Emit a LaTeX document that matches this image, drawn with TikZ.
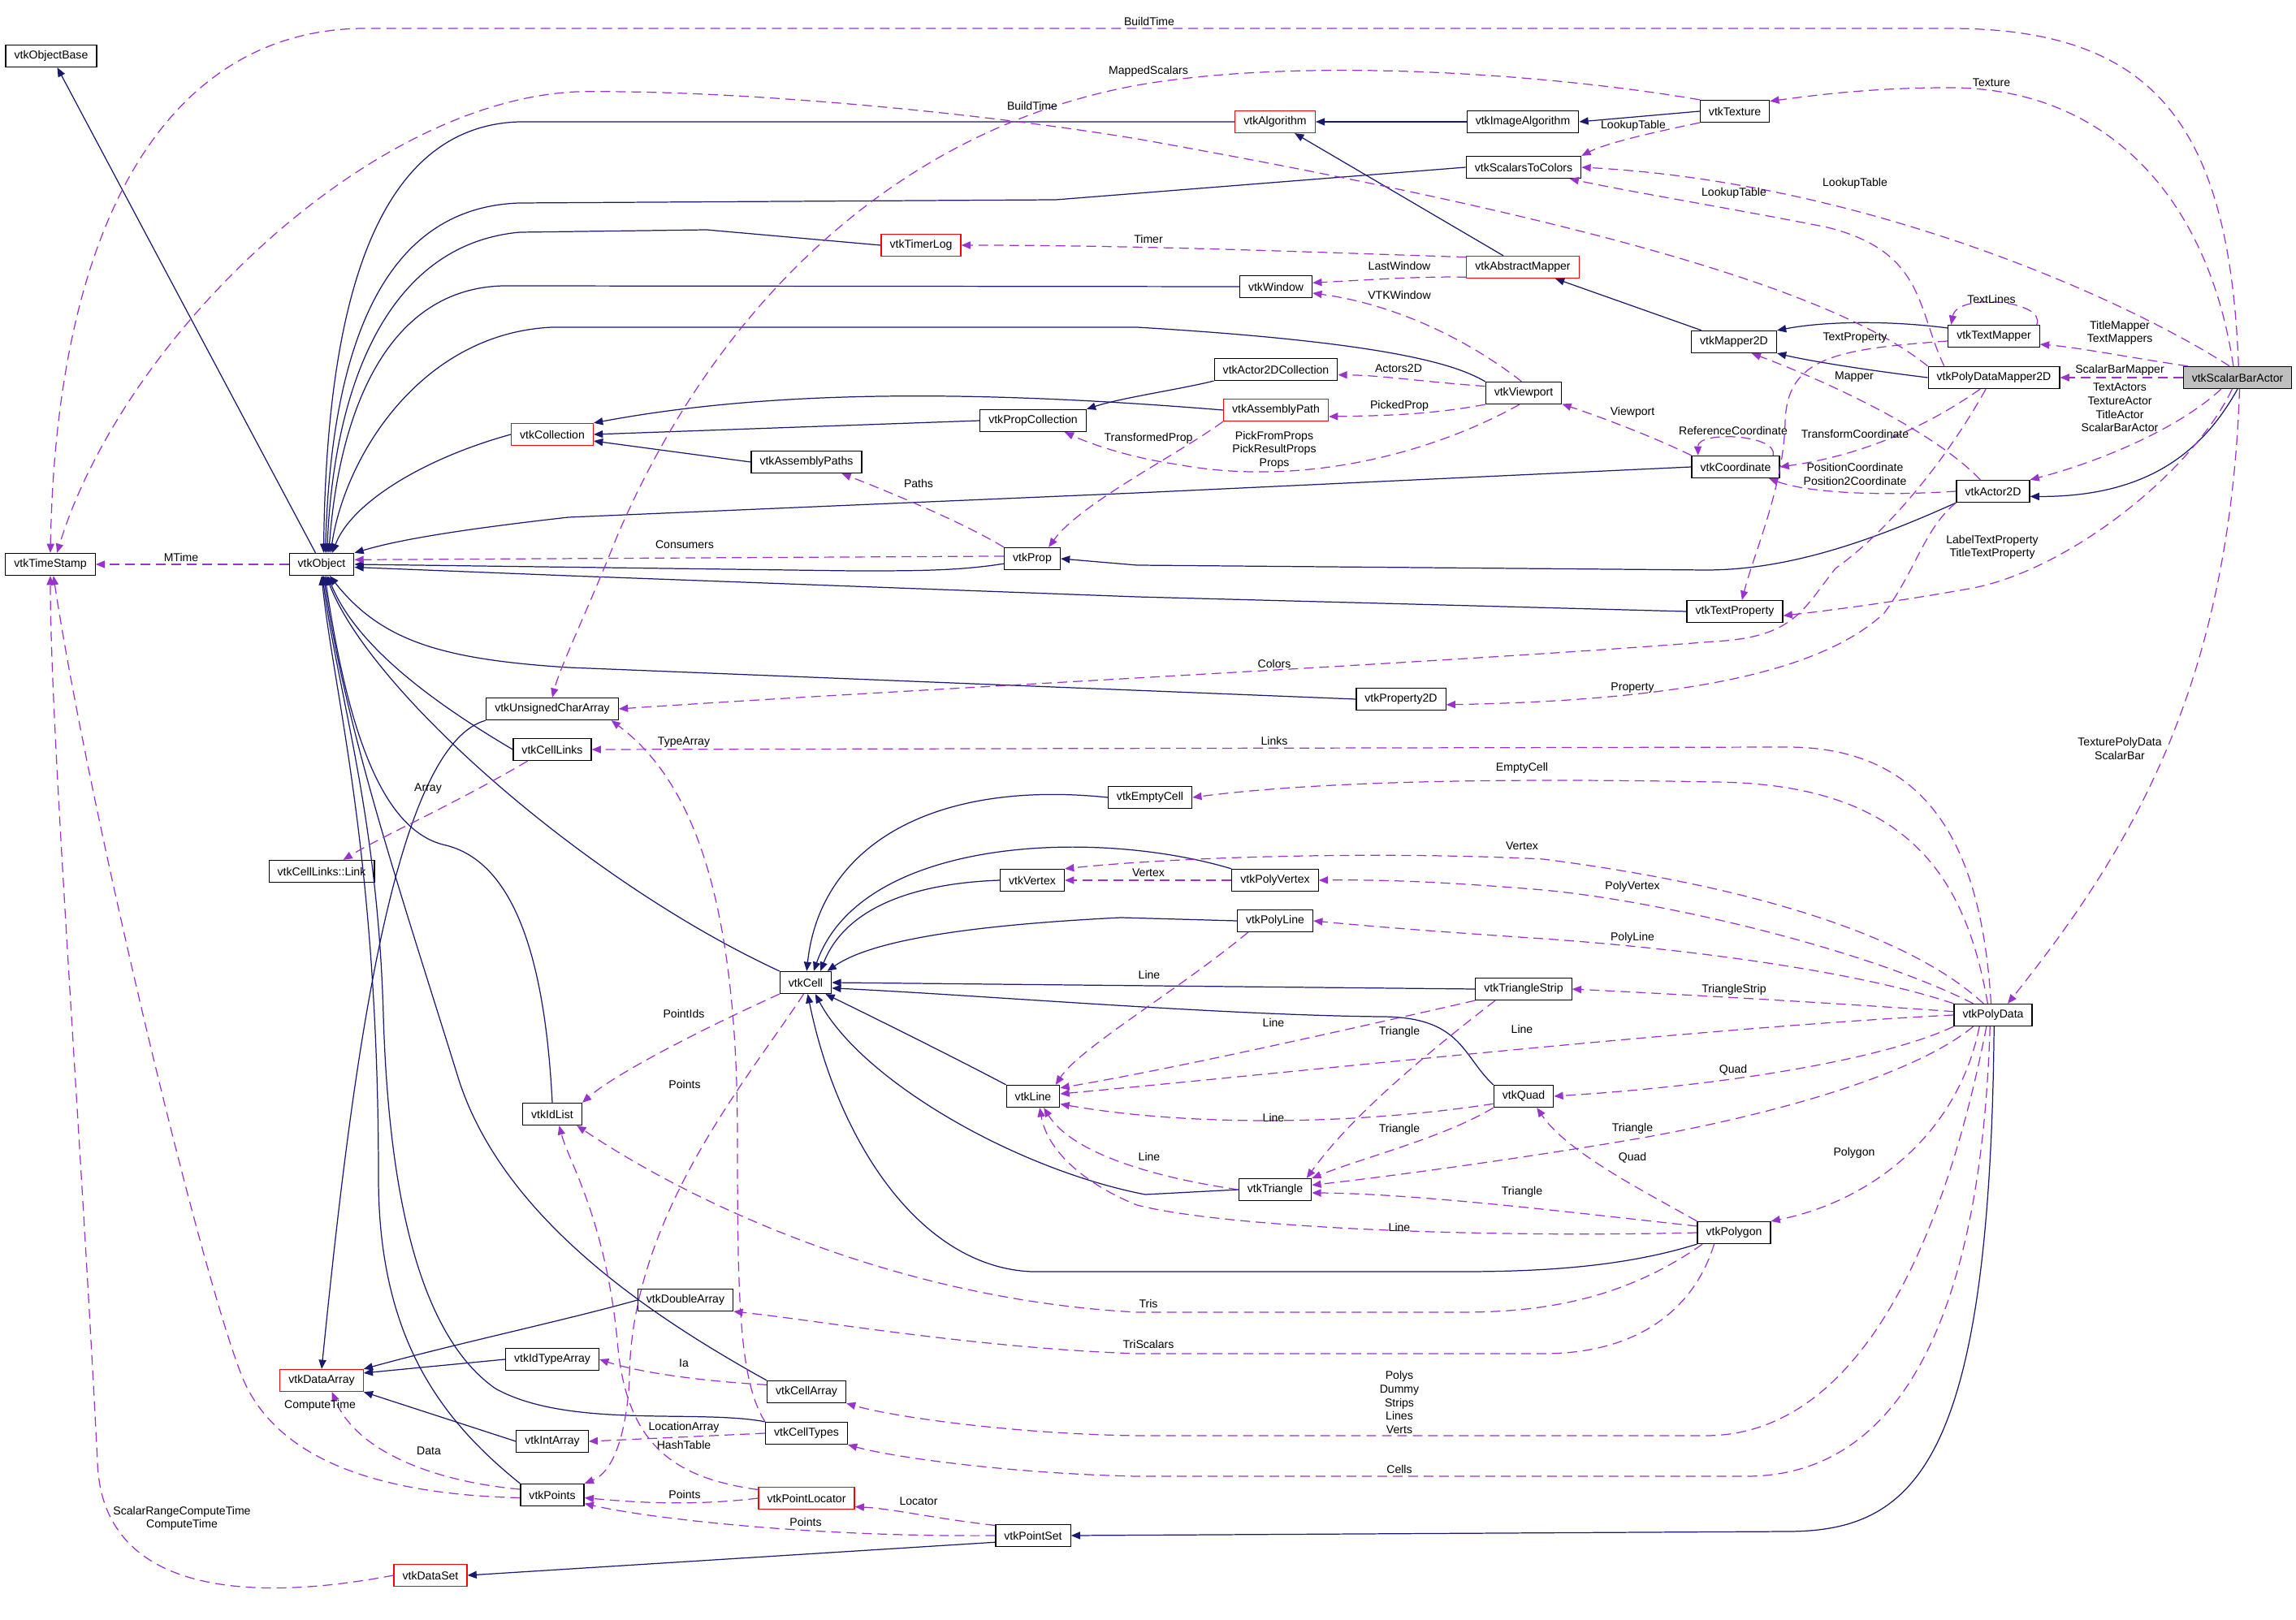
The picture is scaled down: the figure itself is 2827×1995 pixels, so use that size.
\documentclass[tikz,border=0pt]{standalone}
\usepackage{fontspec}
\setmainfont{Liberation Sans}
\usetikzlibrary{arrows.meta}

\definecolor{inhblue}{HTML}{191970}
\definecolor{usepurple}{HTML}{9A32CD}
\definecolor{focusgray}{HTML}{BFBFBF}

\begin{document}
\begin{tikzpicture}[x=0.01cm, y=-0.01cm,
    font=\fontsize{4}{4.7}\selectfont,
    cls/.style={draw=black, line width=0.35pt, fill=white,
      minimum height=0.27cm, inner xsep=3pt, inner ysep=0pt},
    clsred/.style={cls, draw=red},
    clsfocus/.style={cls, fill=focusgray},
    inh/.style={draw=inhblue, line width=0.35pt,
      -{Triangle[length=3.2pt,width=2.6pt]}},
    usage/.style={draw=usepurple, line width=0.35pt,
      dash pattern=on 3.4pt off 2pt,
      -{Triangle[length=3.2pt,width=2.6pt]}},
    lbl/.style={align=center, inner sep=0pt}
  ]
  \useasboundingbox (0,0) rectangle (2827,1995);

  % classes
  \node[cls] (objbase) at (63,69) {vtkObjectBase};
  \node[cls] (timestamp) at (62,695) {vtkTimeStamp};
  \node[cls] (object) at (396,695) {vtkObject};
  \node[cls] (link) at (396,1073) {vtkCellLinks::Link};
  \node[clsred] (dataarray) at (396,1700) {vtkDataArray};
  \node[clsred] (dataset) at (530,1940) {vtkDataSet};
  \node[clsred] (collection) at (680,535) {vtkCollection};
  \node[cls] (ucarray) at (680,873) {vtkUnsignedCharArray};
  \node[cls] (celllinks) at (680,923) {vtkCellLinks};
  \node[cls] (idlist) at (680,1372) {vtkIdList};
  \node[cls] (idtypearray) at (680,1674) {vtkIdTypeArray};
  \node[cls] (intarray) at (680,1775) {vtkIntArray};
  \node[cls] (points) at (680,1841) {vtkPoints};
  \node[cls] (doublearray) at (844,1601) {vtkDoubleArray};
  \node[cls] (asmpaths) at (993,569) {vtkAssemblyPaths};
  \node[cls] (cell) at (992,1210) {vtkCell};
  \node[cls] (cellarray) at (993,1714) {vtkCellArray};
  \node[cls] (celltypes) at (993,1765) {vtkCellTypes};
  \node[clsred] (locator) at (993,1845) {vtkPointLocator};
  \node[clsred] (timerlog) at (1134,302) {vtkTimerLog};
  \node[cls] (propcoll) at (1272,518) {vtkPropCollection};
  \node[cls] (prop) at (1271,688) {vtkProp};
  \node[cls] (vertex) at (1271,1084) {vtkVertex};
  \node[cls] (line) at (1272,1350) {vtkLine};
  \node[cls] (pointset) at (1272,1891) {vtkPointSet};
  \node[cls] (emptycell) at (1416,982) {vtkEmptyCell};
  \node[clsred] (algorithm) at (1570,150) {vtkAlgorithm};
  \node[cls] (window) at (1571,353) {vtkWindow};
  \node[cls] (act2dcoll) at (1571,455) {vtkActor2DCollection};
  \node[clsred] (asmpath) at (1571,505) {vtkAssemblyPath};
  \node[cls] (prop2d) at (1725,861) {vtkProperty2D};
  \node[cls] (polyvertex) at (1570,1084) {vtkPolyVertex};
  \node[cls] (polyline) at (1570,1134) {vtkPolyLine};
  \node[cls] (triangle) at (1570,1465) {vtkTriangle};
  \node[cls] (imagealg) at (1875,150) {vtkImageAlgorithm};
  \node[cls] (scal2col) at (1876,206) {vtkScalarsToColors};
  \node[clsred] (absmapper) at (1875,329) {vtkAbstractMapper};
  \node[cls] (viewport) at (1876,484) {vtkViewport};
  \node[cls] (tristrip) at (1876,1218) {vtkTriangleStrip};
  \node[cls] (quad) at (1876,1350) {vtkQuad};
  \node[cls] (texture) at (2136,137) {vtkTexture};
  \node[cls] (mapper2d) at (2135,421) {vtkMapper2D};
  \node[cls] (coordinate) at (2137,575) {vtkCoordinate};
  \node[cls] (textprop) at (2136,753) {vtkTextProperty};
  \node[cls] (polygon) at (2135,1518) {vtkPolygon};
  \node[cls] (textmapper) at (2455,414) {vtkTextMapper};
  \node[cls] (pdmapper) at (2455,465) {vtkPolyDataMapper2D};
  \node[cls] (actor2d) at (2454,605) {vtkActor2D};
  \node[cls] (polydata) at (2454,1250) {vtkPolyData};
  \node[clsfocus] (sbactor) at (2755,465) {vtkScalarBarActor};

  % inheritance
  \draw[inh] (object) -- (objbase);
  \draw[inh] (algorithm.west) -- (640,150) .. controls (460,155) and (402,380) .. (object.80);
  \draw[inh] (scal2col.west) -- (1300,246) -- (640,250) .. controls (475,255) and (408,420) .. (object.72);
  \draw[inh] (timerlog.west) -- (870,283) -- (640,286) .. controls (485,300) and (412,460) .. (object.65);
  \draw[inh] (window.west) -- (620,352) .. controls (480,355) and (418,500) .. (object.58);
  \draw[inh] (viewport.north west) .. controls (1790,447) and (1700,421) .. (1400,403) -- (680,403) .. controls (520,410) and (425,560) .. (object.52);
  \draw[inh] (collection.west) .. controls (520,565) and (432,620) .. (object.47);
  \draw[inh] (coordinate.west) -- (1400,607) -- (700,637) .. controls (540,655) and (480,668) .. (object.north east);
  \draw[inh] (prop.190) .. controls (1180,703) and (1130,703) .. (1050,703) -- (object.east);
  \draw[inh] (textprop.west) -- (1400,735) -- (700,709) -- (object.-5);
  \draw[inh] (prop2d.west) -- (700,822) .. controls (545,812) and (470,790) .. (object.-55);
  \draw[inh] (celllinks.west) .. controls (545,872) and (440,800) .. (object.-62);
  \draw[inh] (cell.north west) .. controls (720,1085) and (455,850) .. (object.-68);
  \draw[inh] (idlist.north) .. controls (672,1200) and (640,1060) .. (545,1040) .. controls (470,1020) and (428,900) .. (object.-74);
  \draw[inh] (cellarray.north west) .. controls (800,1620) and (620,1500) .. (565,1330) .. controls (500,1120) and (425,900) .. (object.-80);
  \draw[inh] (celltypes.north west) .. controls (860,1735) and (700,1760) .. (610,1710) .. controls (510,1640) and (478,1450) .. (472,1250) .. controls (465,1000) and (415,850) .. (object.-86);
  \draw[inh] (points.north west) .. controls (545,1750) and (466,1650) .. (466,1450) .. controls (466,1050) and (410,850) .. (object.south);
  \draw[inh] (ucarray.south west) .. controls (480,920) and (430,1350) .. (dataarray.north);
  \draw[inh] (doublearray.west) .. controls (700,1625) and (560,1655) .. (dataarray.north east);
  \draw[inh] (idtypearray.west) -- (dataarray.10);
  \draw[inh] (intarray.west) -- (dataarray.south east);
  \draw[inh] (pointset.-170) -- (dataset.east);
  \draw[inh] (polydata.-85) .. controls (2450,1800) and (2360,1886) .. (2200,1886) -- (pointset.east);
  \draw[inh] (imagealg) -- (algorithm);
  \draw[inh] (texture.west) -- (imagealg.east);
  \draw[inh] (absmapper) -- (algorithm);
  \draw[inh] (mapper2d) -- (absmapper);
  \draw[inh] (textmapper.170) .. controls (2330,395) and (2250,395) .. (mapper2d.north east);
  \draw[inh] (pdmapper.west) .. controls (2300,456) and (2230,445) .. (mapper2d.south east);
  \draw[inh] (sbactor.south) .. controls (2710,560) and (2640,612) .. (actor2d.-8);
  \draw[inh] (actor2d.south west) .. controls (2300,668) and (2200,702) .. (2100,702) -- (1400,696) -- (prop.east);
  \draw[inh] (act2dcoll.south west) .. controls (1450,480) and (1380,490) .. (propcoll.north east);
  \draw[inh] (propcoll.west) -- (collection.east);
  \draw[inh] (asmpath.west) .. controls (1200,480) and (950,480) .. (collection.north east);
  \draw[inh] (asmpaths.west) -- (collection.-9);
  \draw[inh] (emptycell.west) .. controls (1150,960) and (1010,1040) .. (cell.85);
  \draw[inh] (polyvertex.north west) .. controls (1350,1020) and (1060,1030) .. (cell.55);
  \draw[inh] (vertex.west) .. controls (1120,1088) and (1040,1120) .. (cell.38);
  \draw[inh] (polyline.west) -- (1380,1130) .. controls (1180,1140) and (1070,1160) .. (cell.28);
  \draw[inh] (tristrip.west) -- (cell.east);
  \draw[inh] (quad.north west) .. controls (1800,1300) and (1800,1252) .. (1700,1252) .. controls (1500,1250) and (1200,1225) .. (cell.-12);
  \draw[inh] (line.north west) .. controls (1190,1310) and (1090,1260) .. (cell.-30);
  \draw[inh] (triangle.west) -- (1410,1471) .. controls (1250,1440) and (1060,1330) .. (cell.-50);
  \draw[inh] (polygon.south west) .. controls (2000,1560) and (1900,1566) .. (1800,1566) -- (1270,1566) .. controls (1130,1560) and (1030,1400) .. (cell.-80);

  % usage
  \draw[usage] (sbactor.85) .. controls (2745,150) and (2650,35) .. (2400,35) -- (450,35) .. controls (220,35) and (70,250) .. (timestamp.north);
  \draw[usage] (pdmapper.north west) .. controls (2250,350) and (1900,260) .. (1400,171) .. controls (1200,138) and (900,110) .. (710,113) .. controls (450,125) and (150,420) .. (timestamp.60);
  \draw[usage] (texture.north west) .. controls (1900,90) and (1600,70) .. (1400,105) .. controls (1100,160) and (880,380) .. (760,660) .. controls (720,760) and (690,820) .. (ucarray.north);
  \draw[usage] (texture.south west) .. controls (2050,160) and (1980,175) .. (scal2col.north east);
  \draw[usage] (sbactor.110) .. controls (2720,250) and (2600,108) .. (2400,108) .. controls (2300,108) and (2230,118) .. (texture.16);
  \draw[usage] (sbactor.125) .. controls (2620,370) and (2300,225) .. (scal2col.east);
  \draw[usage] (pdmapper.167) .. controls (2360,380) and (2370,310) .. (2250,280) .. controls (2150,260) and (2000,235) .. (scal2col.-14);
  \draw[usage] (absmapper.170) .. controls (1600,310) and (1400,302) .. (timerlog.east);
  \draw[usage] (absmapper.190) .. controls (1750,340) and (1680,345) .. (window.6);
  \draw[usage] (viewport.100) .. controls (1810,420) and (1720,375) .. (window.-10);
  \draw[usage] (viewport.170) .. controls (1750,470) and (1700,462) .. (act2dcoll.-5);
  \draw[usage] (viewport.south west) .. controls (1760,511) and (1700,512) .. (asmpath.-7);
  \draw[usage] (viewport.-110) .. controls (1760,560) and (1600,600) .. (1450,572) .. controls (1400,565) and (1350,550) .. (propcoll.-20);
  \draw[usage] (asmpath.south west) .. controls (1450,560) and (1330,620) .. (prop.35);
  \draw[usage] (prop.north west) .. controls (1180,640) and (1080,600) .. (asmpaths.-18);
  \draw[usage] (prop.175) -- (object.8);
  \draw[usage] (object.west) -- (timestamp.east);
  \draw[usage] (textmapper.15) .. controls (2520,370) and (2410,360) .. (textmapper.165);
  \draw[usage] (sbactor.167) .. controls (2620,440) and (2560,428) .. (textmapper.-10);
  \draw[usage] (sbactor.west) -- (pdmapper.east);
  \draw[usage] (textmapper.186) .. controls (2260,430) and (2200,440) .. (2198,520) .. controls (2196,600) and (2160,680) .. (textprop.58);
  \draw[usage] (actor2d.138) .. controls (2380,530) and (2250,470) .. (mapper2d.-33);
  \draw[usage] (sbactor.-145) .. controls (2680,530) and (2580,570) .. (actor2d.north east);
  \draw[usage] (pdmapper.-140) .. controls (2380,520) and (2300,560) .. (coordinate.east);
  \draw[usage] (actor2d.west) .. controls (2300,612) and (2220,605) .. (coordinate.-19);
  \draw[usage] (coordinate.17) .. controls (2190,535) and (2090,530) .. (coordinate.163);
  \draw[usage] (coordinate.north west) .. controls (2030,535) and (1960,510) .. (viewport.-16);
  \draw[usage] (sbactor.-115) .. controls (2700,580) and (2550,700) .. (2430,724) .. controls (2330,742) and (2250,752) .. (textprop.-5);
  \draw[usage] (pdmapper.-125) .. controls (2400,560) and (2330,650) .. (2260,700) .. controls (2220,750) and (2210,785) .. (2110,790) .. controls (1800,815) and (1100,850) .. (ucarray.east);
  \draw[usage] (actor2d.south west) .. controls (2370,650) and (2360,700) .. (2320,755) .. controls (2250,820) and (2100,862) .. (prop2d.-7);
  \draw[usage] (polydata.100) .. controls (2440,1050) and (2380,920) .. (2200,920) -- (celllinks.east);
  \draw[usage] (polydata.115) .. controls (2420,1080) and (2350,965) .. (2110,963) .. controls (1800,957) and (1600,965) .. (emptycell.east);
  \draw[usage] (polydata.130) .. controls (2350,1150) and (2150,1090) .. (1900,1058) .. controls (1700,1048) and (1450,1055) .. (vertex.north east);
  \draw[usage] (polyvertex.west) -- (vertex.east);
  \draw[usage] (polydata.150) .. controls (2300,1170) and (2050,1110) .. (1900,1096) .. controls (1780,1086) and (1700,1083) .. (polyvertex.east);
  \draw[usage] (polydata.north west) .. controls (2300,1200) and (2100,1170) .. (1900,1156) .. controls (1750,1146) and (1680,1140) .. (polyline.east);
  \draw[usage] (polyline.-157) .. controls (1450,1220) and (1330,1290) .. (line.27);
  \draw[usage] (polydata.175) .. controls (2300,1238) and (2100,1226) .. (tristrip.east);
  \draw[usage] (tristrip.south west) .. controls (1650,1270) and (1450,1315) .. (line.17);
  \draw[usage] (tristrip.-158) .. controls (1740,1310) and (1660,1380) .. (triangle.20);
  \draw[usage] (polydata.west) .. controls (2100,1265) and (1600,1320) .. (line.5);
  \draw[usage] (polydata.south west) .. controls (2330,1300) and (2150,1335) .. (quad.east);
  \draw[usage] (quad.-166) .. controls (1650,1388) and (1450,1385) .. (line.-16);
  \draw[usage] (quad.south west) .. controls (1780,1400) and (1680,1425) .. (triangle.north east);
  \draw[usage] (polydata.-150) .. controls (2350,1330) and (2150,1380) .. (2000,1405) .. controls (1850,1430) and (1700,1450) .. (triangle.7);
  \draw[usage] (polygon.north west) .. controls (2030,1470) and (1930,1420) .. (quad.-41);
  \draw[usage] (polygon.170) .. controls (1950,1495) and (1750,1470) .. (triangle.-5);
  \draw[usage] (triangle.west) .. controls (1420,1450) and (1320,1420) .. (line.-47);
  \draw[usage] (polygon.west) .. controls (1800,1525) and (1500,1510) .. (1400,1484) .. controls (1340,1460) and (1290,1420) .. (line.-60);
  \draw[usage] (polydata.-140) .. controls (2410,1400) and (2300,1480) .. (polygon.north east);
  \draw[usage] (polygon.-160) .. controls (2000,1600) and (1900,1616) .. (1800,1616) -- (1400,1616) .. controls (1100,1600) and (850,1480) .. (idlist.-25);
  \draw[usage] (polygon.-150) .. controls (2090,1600) and (2030,1667) .. (1900,1667) -- (1400,1667) .. controls (1200,1660) and (1000,1625) .. (doublearray.south east);
  \draw[usage] (polydata.-120) .. controls (2400,1500) and (2300,1768) .. (2100,1768) -- (1400,1768) .. controls (1250,1766) and (1100,1745) .. (cellarray.south east);
  \draw[usage] (polydata.-105) .. controls (2440,1600) and (2350,1818) .. (2150,1818) -- (1400,1818) .. controls (1250,1815) and (1100,1795) .. (celltypes.south east);
  \draw[usage] (sbactor.-80) .. controls (2745,850) and (2620,1050) .. (polydata.38);
  \draw[usage] (cell.south west) .. controls (880,1260) and (760,1320) .. (idlist.north east);
  \draw[usage] (cell.-100) .. controls (920,1330) and (775,1500) .. (775,1700) .. controls (770,1780) and (750,1815) .. (points.north east);
  \draw[usage] (celllinks.-155) .. controls (560,990) and (470,1030) .. (link.28);
  \draw[usage] (celltypes.north west) .. controls (910,1700) and (908,1600) .. (908,1400) .. controls (908,1100) and (850,960) .. (ucarray.-11);
  \draw[usage] (celltypes.west) -- (intarray.east);
  \draw[usage] (locator.170) .. controls (830,1820) and (770,1780) .. (760,1650) .. controls (745,1500) and (700,1430) .. (idlist.-59);
  \draw[usage] (locator.west) .. controls (850,1855) and (780,1850) .. (points.-5);
  \draw[usage] (pointset.west) .. controls (1000,1893) and (800,1870) .. (points.-15);
  \draw[usage] (pointset.165) .. controls (1150,1870) and (1100,1858) .. (locator.-10);
  \draw[usage] (points.170) .. controls (540,1825) and (440,1790) .. (dataarray.-48);
  \draw[usage] (cellarray.170) .. controls (850,1700) and (780,1688) .. (idtypearray.east);
  \draw[usage] (points.-175) .. controls (450,1840) and (340,1790) .. (300,1700) .. controls (250,1580) and (110,1000) .. (timestamp.-75);
  \draw[usage] (dataset.west) .. controls (300,1975) and (125,1960) .. (120,1800) .. controls (100,1400) and (62,900) .. (timestamp.south);

  % edge labels
  \node[lbl] (lBuildTimeA) at (1415,26) {BuildTime};
  \node[lbl] (lMappedScalars) at (1414,88) {MappedScalars};
  \node[lbl] (lBuildTimeB) at (1271,130) {BuildTime};
  \node[lbl] (lLookupTableA) at (2011,155) {LookupTable};
  \node[lbl] (lTexture) at (2452,102) {Texture};
  \node[lbl] (lLookupTableB) at (2284,226) {LookupTable};
  \node[lbl] (lLookupTableC) at (2135,238) {LookupTable};
  \node[lbl] (lTimer) at (1414,294) {Timer};
  \node[lbl] (lLastWindow) at (1723,327) {LastWindow};
  \node[lbl] (lVTKWindow) at (1723,363) {VTKWindow};
  \node[lbl] (lTextLines) at (2452,368) {TextLines};
  \node[lbl] (lTitleMapper) at (2610,410) {TitleMapper\\TextMappers};
  \node[lbl] (lTextProperty) at (2284,416) {TextProperty};
  \node[lbl] (lActors2D) at (1722,454) {Actors2D};
  \node[lbl] (lScalarBarMapper) at (2610,456) {ScalarBarMapper};
  \node[lbl] (lMapper) at (2283,464) {Mapper};
  \node[lbl] (lPickedProp) at (1723,500) {PickedProp};
  \node[lbl] (lTextActors) at (2610,502) {TextActors\\TextureActor\\TitleActor\\ScalarBarActor};
  \node[lbl] (lViewport) at (2010,508) {Viewport};
  \node[lbl] (lReferenceCoordinate) at (2134,530) {ReferenceCoordinate};
  \node[lbl] (lTransformCoordinate) at (2284,534) {TransformCoordinate};
  \node[lbl] (lTransformedProp) at (1414,540) {TransformedProp};
  \node[lbl] (lPickFromProps) at (1569,554) {PickFromProps\\PickResultProps\\Props};
  \node[lbl] (lPositionCoordinate) at (2284,584) {PositionCoordinate\\Position2Coordinate};
  \node[lbl] (lPaths) at (1131,595) {Paths};
  \node[lbl] (lLabelTextProperty) at (2453,674) {LabelTextProperty\\TitleTextProperty};
  \node[lbl] (lConsumers) at (843,671) {Consumers};
  \node[lbl] (lMTime) at (223,686) {MTime};
  \node[lbl] (lColors) at (1569,817) {Colors};
  \node[lbl] (lProperty) at (2010,847) {Property};
  \node[lbl] (lLinks) at (1569,912) {Links};
  \node[lbl] (lTypeArray) at (842,914) {TypeArray};
  \node[lbl] (lTexturePolyData) at (2610,922) {TexturePolyData\\ScalarBar};
  \node[lbl] (lEmptyCell) at (1874,946) {EmptyCell};
  \node[lbl] (lArray) at (527,971) {Array};
  \node[lbl] (lVertexA) at (1874,1042) {Vertex};
  \node[lbl] (lVertexB) at (1414,1075) {Vertex};
  \node[lbl] (lPolyVertex) at (2010,1092) {PolyVertex};
  \node[lbl] (lPolyLine) at (2010,1155) {PolyLine};
  \node[lbl] (lLineA) at (1415,1200) {Line};
  \node[lbl] (lTriangleStrip) at (2135,1219) {TriangleStrip};
  \node[lbl] (lPointIds) at (842,1248) {PointIds};
  \node[lbl] (lLineB) at (1568,1259) {Line};
  \node[lbl] (lLineC) at (1874,1267) {Line};
  \node[lbl] (lTriangleA) at (1723,1271) {Triangle};
  \node[lbl] (lQuadA) at (2134,1318) {Quad};
  \node[lbl] (lPointsA) at (843,1335) {Points};
  \node[lbl] (lLineD) at (1568,1376) {Line};
  \node[lbl] (lTriangleB) at (2010,1390) {Triangle};
  \node[lbl] (lTriangleC) at (1723,1391) {Triangle};
  \node[lbl] (lPolygon) at (2283,1420) {Polygon};
  \node[lbl] (lLineE) at (1415,1424) {Line};
  \node[lbl] (lQuadB) at (2010,1426) {Quad};
  \node[lbl] (lTriangleD) at (1874,1468) {Triangle};
  \node[lbl] (lLineF) at (1723,1511) {Line};
  \node[lbl] (lTris) at (1414,1605) {Tris};
  \node[lbl] (lTriScalars) at (1414,1655) {TriScalars};
  \node[lbl] (lIa) at (842,1679) {Ia};
  \node[lbl] (lPolys) at (1723,1727) {Polys\\Dummy\\Strips\\Lines\\Verts};
  \node[lbl] (lComputeTime) at (394,1731) {ComputeTime};
  \node[lbl] (lLocationArray) at (842,1758) {LocationArray};
  \node[lbl] (lHashTable) at (842,1779) {HashTable};
  \node[lbl] (lData) at (528,1787) {Data};
  \node[lbl] (lCells) at (1723,1809) {Cells};
  \node[lbl] (lPointsB) at (843,1840) {Points};
  \node[lbl] (lLocator) at (1131,1849) {Locator};
  \node[lbl] (lScalarRange) at (224,1870) {ScalarRangeComputeTime\\ComputeTime};
  \node[lbl] (lPointsC) at (992,1874) {Points};
\end{tikzpicture}
\end{document}
